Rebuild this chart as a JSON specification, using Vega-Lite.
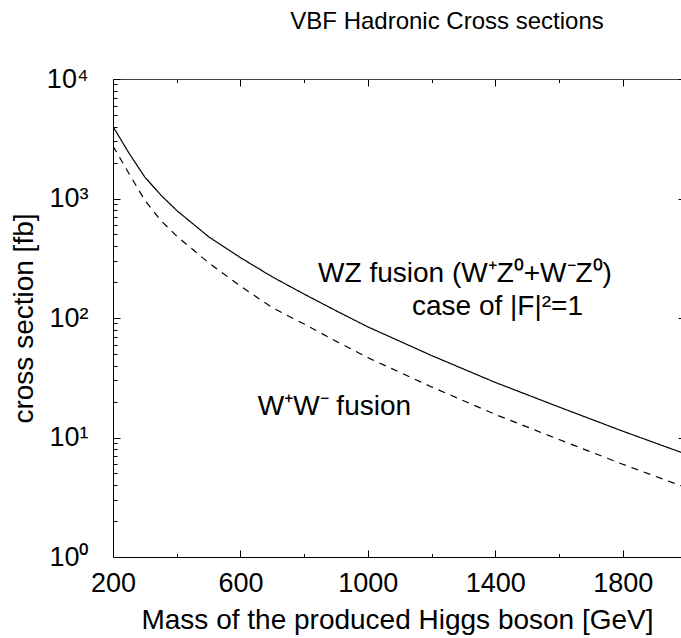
{
  "$schema": "https://vega.github.io/schema/vega-lite/v6.json",
  "width": 568,
  "height": 478,
  "autosize": {"type": "none"},
  "padding": {"left": 113, "top": 79, "right": 0, "bottom": 81},
  "background": "white",
  "config": {"font": "Liberation Sans", "view": {"stroke": null}},
  "title": {
    "text": "VBF Hadronic Cross sections",
    "fontSize": 24,
    "fontWeight": "normal",
    "color": "black",
    "frame": "group",
    "anchor": "middle",
    "baseline": "alphabetic",
    "offset": 12,
    "dx": 50
  },
  "datasets": {
    "curves": [
      {"M": 200, "sigma": 4000, "process": "WZ"},
      {"M": 250, "sigma": 2400, "process": "WZ"},
      {"M": 300, "sigma": 1510, "process": "WZ"},
      {"M": 350, "sigma": 1070, "process": "WZ"},
      {"M": 400, "sigma": 794, "process": "WZ"},
      {"M": 500, "sigma": 479, "process": "WZ"},
      {"M": 600, "sigma": 320, "process": "WZ"},
      {"M": 700, "sigma": 221, "process": "WZ"},
      {"M": 800, "sigma": 158.5, "process": "WZ"},
      {"M": 900, "sigma": 115, "process": "WZ"},
      {"M": 1000, "sigma": 84.3, "process": "WZ"},
      {"M": 1200, "sigma": 48.5, "process": "WZ"},
      {"M": 1400, "sigma": 28.9, "process": "WZ"},
      {"M": 1600, "sigma": 18.0, "process": "WZ"},
      {"M": 1800, "sigma": 11.3, "process": "WZ"},
      {"M": 2000, "sigma": 7.24, "process": "WZ"},
      {"M": 200, "sigma": 2750, "process": "WW"},
      {"M": 250, "sigma": 1620, "process": "WW"},
      {"M": 300, "sigma": 964, "process": "WW"},
      {"M": 350, "sigma": 656, "process": "WW"},
      {"M": 400, "sigma": 485, "process": "WW"},
      {"M": 500, "sigma": 290, "process": "WW"},
      {"M": 600, "sigma": 185, "process": "WW"},
      {"M": 700, "sigma": 122, "process": "WW"},
      {"M": 800, "sigma": 89, "process": "WW"},
      {"M": 900, "sigma": 64.0, "process": "WW"},
      {"M": 1000, "sigma": 46.6, "process": "WW"},
      {"M": 1200, "sigma": 26.5, "process": "WW"},
      {"M": 1400, "sigma": 15.6, "process": "WW"},
      {"M": 1600, "sigma": 9.62, "process": "WW"},
      {"M": 1800, "sigma": 5.97, "process": "WW"},
      {"M": 2000, "sigma": 3.80, "process": "WW"}
    ],
    "labels": [
      {"M": 1305, "sigma": 234, "label": "WZ fusion (W⁺Z⁰+W⁻Z⁰)"},
      {"M": 1407, "sigma": 124, "label": "case of |F|²=1"},
      {"M": 895, "sigma": 18.0, "label": "W⁺W⁻ fusion"}
    ]
  },
  "layer": [
    {
      "data": {"name": "curves"},
      "mark": {"type": "line", "color": "black", "strokeWidth": 1.2, "clip": true},
      "encoding": {
        "x": {
          "field": "M",
          "type": "quantitative",
          "scale": {"domain": [200, 1983], "nice": false, "zero": false},
          "axis": {
            "orient": "bottom",
            "values": [200, 400, 600, 800, 1000, 1200, 1400, 1600, 1800],
            "format": "d",
            "labelExpr": "indexof([200,600,1000,1400,1800], datum.value) >= 0 ? datum.label : ''",
            "tickSize": {"condition": {"test": "indexof([200,600,1000,1400,1800], datum.value) >= 0", "value": -7}, "value": -3.5},
            "tickColor": "black",
            "domainColor": "black",
            "labelColor": "black",
            "labelFontSize": 27,
            "labelPadding": 20,
            "labelFlush": false,
            "labelOverlap": false,
            "grid": false,
            "title": "Mass of the produced Higgs boson [GeV]",
            "titleFontSize": 28,
            "titleFontWeight": "normal",
            "titleColor": "black",
            "titleBaseline": "alphabetic",
            "titleY": 71
          }
        },
        "y": {
          "field": "sigma",
          "type": "quantitative",
          "scale": {"type": "log", "domain": [1, 10000], "nice": false},
          "axis": {
            "orient": "left",
            "values": [1, 2, 3, 4, 5, 6, 7, 8, 9, 10, 20, 30, 40, 50, 60, 70, 80, 90, 100, 200, 300, 400, 500, 600, 700, 800, 900, 1000, 2000, 3000, 4000, 5000, 6000, 7000, 8000, 9000, 10000],
            "labelExpr": "datum.value == 1 ? '10⁰' : datum.value == 10 ? '10¹' : datum.value == 100 ? '10²' : datum.value == 1000 ? '10³' : datum.value == 10000 ? '10⁴' : ''",
            "tickSize": {"condition": {"test": "indexof([1,10,100,1000,10000], datum.value) >= 0", "value": -7}, "value": -4},
            "tickColor": "black",
            "domainColor": "black",
            "labelColor": "black",
            "labelFontSize": 27,
            "labelPadding": 32,
            "labelFlush": false,
            "labelOverlap": false,
            "grid": false,
            "title": "cross section [fb]",
            "titleFontSize": 28,
            "titleFontWeight": "normal",
            "titleColor": "black",
            "titleBaseline": "alphabetic",
            "titleX": -81
          }
        },
        "strokeDash": {
          "field": "process",
          "type": "nominal",
          "scale": {"domain": ["WZ", "WW"], "range": [[1, 0], [7, 6]]},
          "legend": null
        }
      }
    },
    {
      "data": {"name": "labels"},
      "mark": {"type": "text", "fontSize": 28, "align": "center", "baseline": "middle", "color": "black"},
      "encoding": {
        "x": {
          "field": "M",
          "type": "quantitative",
          "scale": {"domain": [200, 1983], "nice": false, "zero": false},
          "axis": {
            "orient": "top",
            "values": [200, 400, 600, 800, 1000, 1200, 1400, 1600, 1800],
            "labels": false,
            "tickSize": {"condition": {"test": "indexof([200,600,1000,1400,1800], datum.value) >= 0", "value": -7}, "value": -3.5},
            "tickColor": "black",
            "domainColor": "#444",
            "grid": false,
            "title": null
          }
        },
        "y": {
          "field": "sigma",
          "type": "quantitative",
          "scale": {"type": "log", "domain": [1, 10000], "nice": false},
          "axis": {
            "orient": "right",
            "values": [1, 10, 100, 1000, 10000],
            "labels": false,
            "domain": false,
            "tickSize": -3,
            "tickColor": "black",
            "grid": false,
            "title": null
          }
        },
        "text": {"field": "label", "type": "nominal"}
      }
    }
  ],
  "resolve": {"axis": {"x": "independent", "y": "independent"}}
}
